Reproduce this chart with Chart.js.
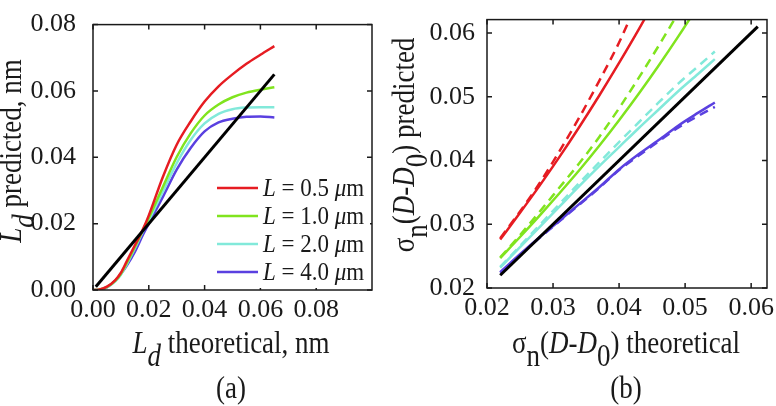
<!DOCTYPE html>
<html>
<head>
<meta charset="utf-8">
<script src="https://cdn.jsdelivr.net/npm/chart.js@4.4.1/dist/chart.umd.min.js"></script>
<style>
  body { margin: 0; background: #fff; }
  #wrap { position: relative; width: 776px; height: 406px; }
  .panel { position: absolute; top: 0; }
</style>
</head>
<body>
<div id="wrap">
  <canvas id="chartA" class="panel" style="left:0" width="390" height="406"></canvas>
  <canvas id="chartB" class="panel" style="left:390px" width="386" height="406"></canvas>
</div>
<script>
// ---- panel (a) data ----
const xA = [0, 0.002, 0.005, 0.008, 0.01, 0.012, 0.015, 0.018, 0.02, 0.025, 0.03, 0.035, 0.04, 0.045, 0.05, 0.055, 0.06, 0.065];
const redA   = [0, 0.0001, 0.001, 0.003, 0.0052, 0.0085, 0.0135, 0.0185, 0.0225, 0.034, 0.0438, 0.0508, 0.0568, 0.0614, 0.065, 0.0682, 0.0709, 0.0735];
const greenA = [0, 0.0001, 0.0009, 0.0028, 0.0049, 0.008, 0.013, 0.0182, 0.0217, 0.031, 0.0401, 0.0472, 0.0526, 0.0559, 0.0581, 0.0595, 0.0604, 0.0611];
const cyanA  = [0, 0.0001, 0.0008, 0.0026, 0.0046, 0.0076, 0.0125, 0.0178, 0.021, 0.0296, 0.0382, 0.0452, 0.0502, 0.0531, 0.0545, 0.055, 0.0551, 0.0551];
const blueA  = [0, 0, 0.0008, 0.0028, 0.0048, 0.0072, 0.0115, 0.0168, 0.020, 0.028, 0.0363, 0.0428, 0.0478, 0.0505, 0.0516, 0.0522, 0.0523, 0.052];
const idealA = [0.001, 0.065];
const ticksA = [0, 0.02, 0.04, 0.06, 0.08];

// ---- panel (b) data ----
const xB = [0.022, 0.025, 0.028, 0.031, 0.034, 0.037, 0.040, 0.043, 0.046, 0.049, 0.052, 0.0545];
const redB      = [0.0276, 0.0318, 0.0361, 0.0406, 0.0453, 0.0502, 0.0553, 0.0606, 0.0662, null, null, null];
const redBdash  = [0.0278, 0.032, 0.0365, 0.0415, 0.0468, 0.0525, 0.0585, 0.0655, null, null, null, null];
const greenB     = [0.0247, 0.028, 0.0314, 0.0349, 0.0385, 0.0423, 0.0463, 0.0505, 0.0549, 0.0595, 0.0643, null];
const greenBdash = [0.0248, 0.0283, 0.032, 0.0358, 0.0396, 0.0437, 0.0482, 0.053, 0.058, 0.0632, null, null];
const cyanB     = [0.0232, 0.0264, 0.0296, 0.0328, 0.036, 0.0391, 0.0421, 0.0451, 0.048, 0.0509, 0.0536, 0.0559];
const cyanBdash = [0.0233, 0.0266, 0.0299, 0.0332, 0.0365, 0.0397, 0.0429, 0.046, 0.0491, 0.0521, 0.0548, 0.0571];
const blueB     = [0.0225, 0.0253, 0.028, 0.0306, 0.0332, 0.0358, 0.0386, 0.041, 0.0432, 0.0455, 0.0475, 0.0491];
const blueBdash = [0.0224, 0.0252, 0.0279, 0.0305, 0.0331, 0.0357, 0.0385, 0.0408, 0.043, 0.0452, 0.047, 0.0484];
const idealB = [0.022, 0.061];
const ticksB = [0.02, 0.03, 0.04, 0.05, 0.06];

const lengths = ['0.5', '1.0', '2.0', '4.0'];
const colors = ['#e61c22', '#80e41e', '#82e9da', '#5a40e0'];

const FONT = '"Liberation Serif", "Times New Roman", serif';
const INK = '#1a1a1a';

function pts(xs, ys) {
  return xs.map((x, i) => ({ x: x, y: ys[i] }));
}

// draw text made of styled pieces: [text, style] with style containing i (italic) / s (subscript)
function richText(ctx, parts, x, y, size, align, stretch) {
  const fonts = parts.map(p => {
    const st = p[1] || '';
    return (st.includes('i') ? 'italic ' : '') + size + 'px ' + FONT;
  });
  let w = 0;
  parts.forEach((p, i) => { ctx.font = fonts[i]; w += ctx.measureText(p[0]).width; });
  ctx.save();
  ctx.translate(x, y);
  ctx.scale(1, stretch || 1);
  let cx = align === 'left' ? 0 : -w / 2;
  ctx.textAlign = 'left';
  ctx.textBaseline = 'alphabetic';
  parts.forEach((p, i) => {
    ctx.font = fonts[i];
    const dy = (p[1] || '').includes('s') ? size * 0.42 : 0;
    ctx.fillText(p[0], cx, dy);
    cx += ctx.measureText(p[0]).width;
  });
  ctx.restore();
}

// frame, inward ticks, legend and axis titles
const decor = {
  id: 'decor',
  afterDraw(chart, args, opts) {
    const ctx = chart.ctx;
    const a = chart.chartArea;
    const xs = chart.scales.x, ys = chart.scales.y;
    ctx.save();
    ctx.strokeStyle = INK;
    ctx.lineWidth = 1.5;
    ctx.strokeRect(a.left, a.top, a.right - a.left, a.bottom - a.top);
    ctx.beginPath();
    opts.xticks.forEach(v => {
      const px = xs.getPixelForValue(v);
      ctx.moveTo(px, a.bottom); ctx.lineTo(px, a.bottom - 5);
      ctx.moveTo(px, a.top); ctx.lineTo(px, a.top + 5);
    });
    opts.yticks.forEach(v => {
      const py = ys.getPixelForValue(v);
      ctx.moveTo(a.left, py); ctx.lineTo(a.left + 5, py);
      ctx.moveTo(a.right, py); ctx.lineTo(a.right - 5, py);
    });
    ctx.stroke();

    // legend
    const lg = opts.legend;
    ctx.fillStyle = '#fff';
    ctx.fillRect(lg.x - 5, lg.y - 14, 158, lg.gap * 4 + 2);
    lengths.forEach((len, i) => {
      const y = lg.y + i * lg.gap;
      ctx.strokeStyle = colors[i];
      ctx.lineWidth = 2.5;
      ctx.beginPath();
      ctx.moveTo(lg.x, y); ctx.lineTo(lg.x + 41, y);
      ctx.stroke();
      ctx.fillStyle = INK;
      richText(ctx, [['L', 'i'], [' = ' + len + ' '], ['\u03bc', 'i'], ['m']], lg.x + 46, y + 8, 23, 'left', 1.05);
    });

    // titles
    ctx.fillStyle = INK;
    richText(ctx, opts.xtitle, opts.xtitlePos[0], opts.xtitlePos[1], 27, 'center', 1.15);
    ctx.save();
    ctx.translate(opts.ytitlePos[0], opts.ytitlePos[1]);
    ctx.rotate(-Math.PI / 2);
    richText(ctx, opts.ytitle, 0, 0, 27, 'center', 1.15);
    ctx.restore();
    richText(ctx, [[opts.tag]], opts.tagPos[0], opts.tagPos[1], 27, 'center', 1.2);
    ctx.restore();
  }
};

function line(data, color, width, dash) {
  return {
    data: data,
    borderColor: color,
    borderWidth: width,
    borderDash: dash || [],
    pointRadius: 0,
    fill: false,
    cubicInterpolationMode: 'monotone',
    spanGaps: false
  };
}

function axis(min, max, ticks, fit, pad) {
  return {
    type: 'linear',
    min: min,
    max: max,
    afterBuildTicks: s => { s.ticks = ticks.map(v => ({ value: v })); },
    afterFit: fit,
    grid: { display: false },
    border: { display: false },
    ticks: {
      font: { family: FONT, size: 26 },
      color: INK,
      maxRotation: 0,
      autoSkip: false,
      padding: pad,
      callback: v => v.toFixed(2)
    }
  };
}

function makeChart(id, datasets, xAxis, yAxis, padding, decorOpts) {
  return new Chart(document.getElementById(id), {
    type: 'line',
    data: { datasets: datasets },
    options: {
      responsive: false,
      animation: false,
      devicePixelRatio: 1,
      layout: { padding: padding },
      plugins: { legend: { display: false }, tooltip: { enabled: false }, decor: decorOpts },
      scales: { x: xAxis, y: yAxis }
    },
    plugins: [decor]
  });
}

// panel (a)
makeChart('chartA', [
  line(pts(idealA, idealA), '#000', 3),
  line(pts(xA, redA), colors[0], 2.5),
  line(pts(xA, greenA), colors[1], 2.5),
  line(pts(xA, cyanA), colors[2], 2.5),
  line(pts(xA, blueA), colors[3], 2.5)
],
  axis(0, 0.1, ticksA, s => { s.height = 406 - 290; }, -3),
  axis(0, 0.08, ticksA, s => { s.width = 93; }, 9),
  { left: 0, top: 11, right: 18, bottom: 0 },
  {
    xticks: ticksA, yticks: ticksA,
    legend: { x: 217, y: 188, gap: 28 },
    xtitle: [['L', 'i'], ['d', 'is'], [' theoretical, nm']], xtitlePos: [231, 353],
    ytitle: [['L', 'i'], ['d', 'is'], [' predicted, nm']], ytitlePos: [21, 151],
    tag: '(a)', tagPos: [231, 398]
  });

// panel (b)
makeChart('chartB', [
  line(pts(idealB, idealB), '#000', 3),
  line(pts(xB, redB), colors[0], 2.5),
  line(pts(xB, redBdash), colors[0], 2.5, [9, 6]),
  line(pts(xB, greenB), colors[1], 2.5),
  line(pts(xB, greenBdash), colors[1], 2.5, [9, 6]),
  line(pts(xB, cyanB), colors[2], 2.5),
  line(pts(xB, cyanBdash), colors[2], 2.5, [9, 6]),
  line(pts(xB, blueB), colors[3], 2.5),
  line(pts(xB, blueBdash), colors[3], 2.5, [9, 6])
],
  axis(0.02, 0.0624, ticksB, s => { s.height = 406 - 288; }, -3),
  axis(0.02, 0.0621, ticksB, s => { s.width = 97; }, 4),
  { left: 0, top: 11, right: 9, bottom: 0 },
  {
    xticks: ticksB, yticks: ticksB,
    legend: { x: 611, y: 180, gap: 29 },
    xtitle: [['\u03c3'], ['n', 's'], ['('], ['D', 'i'], ['-'], ['D', 'i'], ['0', 's'], [') theoretical']], xtitlePos: [236, 353],
    ytitle: [['\u03c3'], ['n', 's'], ['('], ['D', 'i'], ['-'], ['D', 'i'], ['0', 's'], [') predicted']], ytitlePos: [24, 145],
    tag: '(b)', tagPos: [236, 398]
  });
</script>
</body>
</html>
